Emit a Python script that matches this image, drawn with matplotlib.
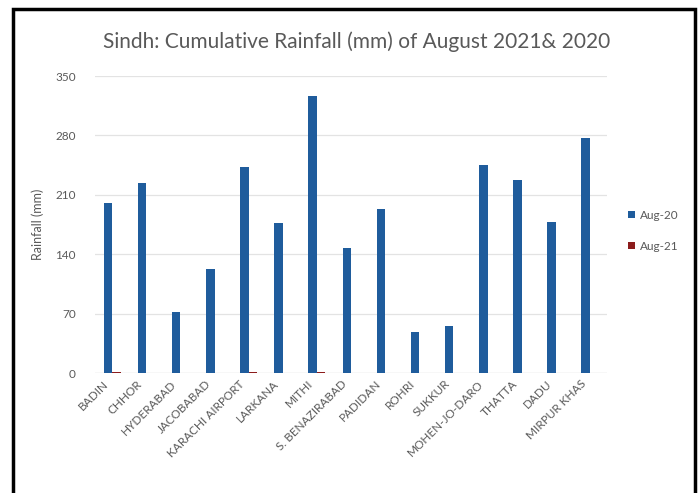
import matplotlib
matplotlib.use("Agg")
import matplotlib.pyplot as plt
import matplotlib.transforms as mtransforms
import numpy as np
from matplotlib.patches import Rectangle

stations = ["BADIN", "CHHOR", "HYDERABAD", "JACOBABAD", "KARACHI AIRPORT",
            "LARKANA", "MITHI", "S. BENAZIRABAD", "PADIDAN", "ROHRI",
            "SUKKUR", "MOHEN-JO-DARO", "THATTA", "DADU", "MIRPUR KHAS"]
aug_20 = [201, 224, 72, 123, 243, 177, 326, 148, 193, 49, 56, 245, 228, 178, 277]
aug_21 = [1.5, 0.3, 0.5, 0.5, 1.5, 0.3, 2.0, 0.5, 0.0, 0.3, 0.0, 0.3, 0.0, 0.0, 0.0]
yticks = [0, 70, 140, 210, 280, 350]

blue = "#1f5c9c"
red = "#8c1c1c"
grey = "#595959"
plt.rcParams['font.family'] = ['Lato', 'DejaVu Sans']

fig = plt.figure(figsize=(7, 4.93), dpi=100)
ax = fig.add_axes([0.136, 0.2428, 0.731, 0.603])

x = np.arange(len(stations))
w = 0.25
ax.bar(x - w / 2, aug_20, w, color=blue, label="Aug-20", zorder=3)
ax.bar(x + w / 2, aug_21, w, color=red, label="Aug-21", zorder=3)

ax.set_xlim(-0.5, len(stations) - 0.5)
ax.set_ylim(0, 350)
ax.set_yticks(yticks)
ax.yaxis.grid(True, color="#e3e3e3", lw=0.9, zorder=0)
for s in ax.spines.values():
    s.set_visible(False)
ax.axhline(0, color="#d9d9d9", lw=0.9, zorder=1)
ax.tick_params(axis="both", length=0, colors=grey, labelsize=8.5)
ax.tick_params(axis="y", pad=14)
ax.set_xticks(x)
ax.set_xticklabels(stations, rotation=45, ha="right", va="top",
                   rotation_mode="anchor", fontsize=8.5)
# nudge the slanted station names a little to the left
shift = mtransforms.ScaledTranslation(-7 / 72, 0, fig.dpi_scale_trans)
for lbl in ax.get_xticklabels():
    lbl.set_transform(lbl.get_transform() + shift)
ax.set_ylabel("Rainfall (mm)", color=grey, fontsize=9, labelpad=8)

fig.text(0.51, 0.915, "Sindh: Cumulative Rainfall (mm) of August 2021& 2020",
         ha="center", va="center", fontsize=15, color=grey)

ax.legend(loc="center left", bbox_to_anchor=(1.02, 0.48), frameon=False,
          fontsize=8.5, labelcolor=grey, handlelength=0.6, handleheight=0.6,
          handletextpad=0.4, labelspacing=1.7)

# outer frame
fig.patches.append(Rectangle((13 / 700, -0.1), (695 - 13) / 700, 1.1 - 9 / 493,
                             transform=fig.transFigure, fill=False,
                             edgecolor="black", lw=2.5))

fig.savefig("out.png", dpi=100)
